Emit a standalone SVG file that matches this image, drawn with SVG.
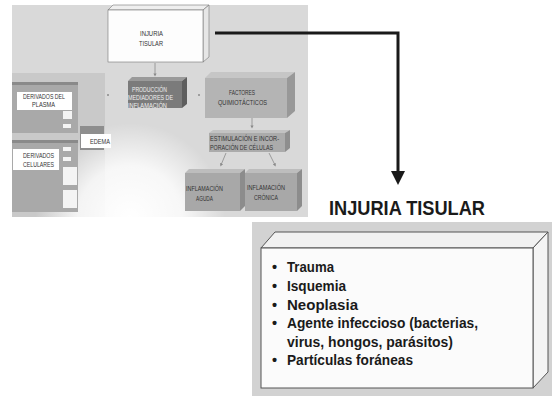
<svg xmlns="http://www.w3.org/2000/svg" width="552" height="396" viewBox="0 0 552 396">
<defs>
<style>
.s{font-family:"Liberation Sans",Arial,sans-serif;font-size:7.5px;fill:#333}
.sw{font-family:"Liberation Sans",Arial,sans-serif;font-size:7.5px;fill:#eee}
.b{font-family:"Liberation Sans",Arial,sans-serif;font-weight:bold;font-size:14.5px;fill:#1a1a1a}
.h{font-family:"Liberation Sans",Arial,sans-serif;font-weight:bold;font-size:20.5px;fill:#1a1a1a}
.thin{stroke:#8a8a8a;stroke-width:0.8;fill:none}
.edge{stroke:#777;stroke-width:0.6}
</style>
<radialGradient id="fade" cx="130" cy="218" r="95" gradientUnits="userSpaceOnUse">
<stop offset="0" stop-color="#fff" stop-opacity="1"/>
<stop offset="0.55" stop-color="#fff" stop-opacity="0.8"/>
<stop offset="1" stop-color="#fff" stop-opacity="0"/>
</radialGradient>
<marker id="smallArrow" markerWidth="4" markerHeight="4" refX="2" refY="2" orient="auto" markerUnits="strokeWidth">
<path d="M0,0 L4,2 L0,4 Z" fill="#8a8a8a"/>
</marker>
</defs>

<rect width="552" height="396" fill="#fff"/>

<g id="background">
<rect x="12" y="5" width="296" height="212" fill="#d9d9d9"/>
<rect x="12" y="73" width="93" height="144" fill="#c9c9c9"/>
<rect x="12" y="5" width="296" height="212" fill="url(#fade)"/>
</g>

<g id="derivados-plasma">
<rect x="12" y="82" width="66" height="51" fill="#a9a9a9"/>
<rect x="12" y="82" width="66" height="3" fill="#8a8a8a"/>
<rect x="17" y="92" width="55" height="18" fill="#fff"/>
<rect x="63" y="111" width="9" height="8" fill="#f4f4f4"/>
<rect x="63" y="124" width="8" height="4" fill="#f4f4f4"/>
<text class="s" x="23" y="99" textLength="42" lengthAdjust="spacingAndGlyphs">DERIVADOS DEL</text>
<text class="s" x="32" y="106.5" textLength="23" lengthAdjust="spacingAndGlyphs">PLASMA</text>
</g>

<g id="edema">
<rect x="80" y="126" width="24" height="24" fill="#8e8e8e"/>
<rect x="81" y="134" width="30" height="14" fill="#fff"/>
<text class="s" x="90" y="143.5" textLength="20" lengthAdjust="spacingAndGlyphs">EDEMA</text>
</g>

<g id="derivados-celulares">
<rect x="12" y="140" width="66" height="72" fill="#a9a9a9"/>
<rect x="12" y="140" width="66" height="3" fill="#8a8a8a"/>
<rect x="13" y="149" width="46" height="21" fill="#fff"/>
<rect x="63" y="147" width="8" height="4" fill="#f4f4f4"/>
<rect x="63" y="157" width="8" height="4" fill="#f4f4f4"/>
<rect x="63" y="167" width="14" height="18" fill="#f4f4f4"/>
<rect x="63" y="190" width="14" height="18" fill="#f4f4f4"/>
<text class="s" x="23" y="157.5" textLength="31" lengthAdjust="spacingAndGlyphs">DERIVADOS</text>
<text class="s" x="23" y="166.5" textLength="31" lengthAdjust="spacingAndGlyphs">CELULARES</text>
</g>

<g id="injuria-small">
<polygon points="108,10 113,5 209,5 203,10" fill="#efefef" class="edge"/>
<polygon points="203,10 209,5 209,57 203,62" fill="#e6e6e6" class="edge"/>
<rect x="108" y="10" width="95" height="52" fill="#fdfdfd" class="edge"/>
<text class="s" x="140" y="35.5" textLength="23" lengthAdjust="spacingAndGlyphs">INJURIA</text>
<text class="s" x="139" y="45.5" textLength="24" lengthAdjust="spacingAndGlyphs">TISULAR</text>
</g>

<g id="produccion">
<polygon points="128,81 132,77 187,77 182,81" fill="#9a9a9a"/>
<polygon points="182,81 187,77 187,104 182,108" fill="#5e5e5e"/>
<rect x="128" y="81" width="54" height="27" fill="#7b7b7b"/>
<text class="sw" x="132" y="92" textLength="35" lengthAdjust="spacingAndGlyphs">PRODUCCIÓN</text>
<text class="sw" x="128" y="100" textLength="45" lengthAdjust="spacingAndGlyphs">MEDIADORES DE</text>
<text class="sw" x="128" y="107.5" textLength="39" lengthAdjust="spacingAndGlyphs">INFLAMACIÓN</text>
</g>

<g id="factores">
<polygon points="205,78 211,72 295,72 287,78" fill="#c6c6c6"/>
<polygon points="287,78 295,72 295,111 287,118" fill="#989898"/>
<rect x="205" y="78" width="82" height="40" fill="#b4b4b4"/>
<text class="s" x="229" y="95" textLength="26" lengthAdjust="spacingAndGlyphs">FACTORES</text>
<text class="s" x="218" y="104.5" textLength="49" lengthAdjust="spacingAndGlyphs">QUIMIOTÁCTICOS</text>
</g>

<g id="estimulacion">
<polygon points="209,133 213,130 290,130 285,133" fill="#c2c2c2"/>
<polygon points="285,133 290,130 290,148 285,152" fill="#8e8e8e"/>
<rect x="209" y="133" width="76" height="19" fill="#ababab"/>
<text class="s" x="210" y="140.5" textLength="69" lengthAdjust="spacingAndGlyphs">ESTIMULACIÓN E INCOR-</text>
<text class="s" x="210" y="149.5" textLength="63" lengthAdjust="spacingAndGlyphs">PORACIÓN DE CÉLULAS</text>
</g>

<g id="inflamacion-aguda">
<polygon points="185,173 189,169 245,169 240,173" fill="#bdbdbd"/>
<polygon points="240,173 245,169 245,206 240,211" fill="#8c8c8c"/>
<rect x="185" y="173" width="55" height="38" fill="#a8a8a8"/>
<text class="s" x="186" y="191" textLength="37" lengthAdjust="spacingAndGlyphs">INFLAMACIÓN</text>
<text class="s" x="196" y="201" textLength="17" lengthAdjust="spacingAndGlyphs">AGUDA</text>
</g>

<g id="inflamacion-cronica">
<polygon points="245,173 249,169 302,169 297,173" fill="#bdbdbd"/>
<polygon points="297,173 302,169 302,206 297,211" fill="#8c8c8c"/>
<rect x="245" y="173" width="52" height="38" fill="#a8a8a8"/>
<text class="s" x="247" y="190" textLength="38" lengthAdjust="spacingAndGlyphs">INFLAMACIÓN</text>
<text class="s" x="254" y="199.5" textLength="24" lengthAdjust="spacingAndGlyphs">CRÓNICA</text>
</g>

<g id="heading">
<text class="h" x="329" y="215" textLength="156" lengthAdjust="spacingAndGlyphs">INJURIA TISULAR</text>
</g>

<g id="injuria-box">
<rect x="252" y="222" width="300" height="174" fill="#d2d2d2"/>
<polygon points="261,248 275,232 548,232 533,248" fill="#f1f1f1" stroke="#555" stroke-width="1"/>
<polygon points="533,248 548,232 548,372 533,388" fill="#f4f4f4" stroke="#555" stroke-width="1"/>
<rect x="261" y="248" width="272" height="140" fill="#fbfbfb" stroke="#555" stroke-width="1"/>
<g class="b">
<text x="272" y="272">•</text>
<text x="287" y="272" textLength="47" lengthAdjust="spacingAndGlyphs">Trauma</text>
<text x="272" y="291">•</text>
<text x="287" y="291" textLength="59" lengthAdjust="spacingAndGlyphs">Isquemia</text>
<text x="272" y="310">•</text>
<text x="287" y="310" textLength="71" lengthAdjust="spacingAndGlyphs">Neoplasia</text>
<text x="272" y="328">•</text>
<text x="287" y="328" textLength="191" lengthAdjust="spacingAndGlyphs">Agente infeccioso (bacterias,</text>
<text x="287" y="347" textLength="166" lengthAdjust="spacingAndGlyphs">virus, hongos, parásitos)</text>
<text x="272" y="365">•</text>
<text x="287" y="365" textLength="126" lengthAdjust="spacingAndGlyphs">Partículas foráneas</text>
</g>
</g>

<g id="connectors">
<polyline points="215,33 398,33 398,172" fill="none" stroke="#1a1a1a" stroke-width="3"/>
<polygon points="391,171 405,171 398,185" fill="#1a1a1a"/>
<line class="thin" x1="155" y1="63" x2="155" y2="75" marker-end="url(#smallArrow)"/>
<line class="thin" x1="252" y1="118" x2="252" y2="127" marker-end="url(#smallArrow)"/>
<line class="thin" x1="226" y1="153" x2="221" y2="165" marker-end="url(#smallArrow)"/>
<line class="thin" x1="269" y1="153" x2="275" y2="165" marker-end="url(#smallArrow)"/>
<circle cx="108" cy="95" r="1" fill="#8a8a8a"/>
<circle cx="199" cy="95" r="1" fill="#8a8a8a"/>
</g>
</svg>
